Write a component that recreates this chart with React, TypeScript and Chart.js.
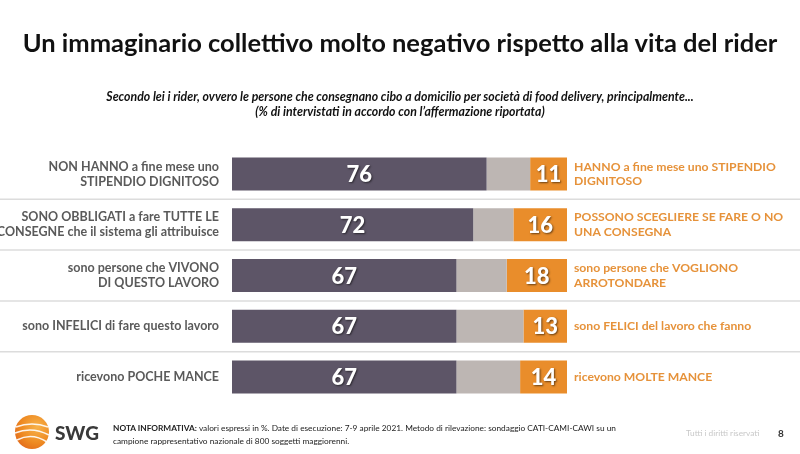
import React, { useEffect, useRef } from "react";
import { Chart, registerables } from "chart.js";

Chart.register(...registerables);

const leftLabels: string[][] = [
  ["NON HANNO a fine mese uno", "STIPENDIO DIGNITOSO"],
  ["SONO OBBLIGATI a fare TUTTE LE", "CONSEGNE che il sistema gli attribuisce"],
  ["sono persone che VIVONO", "DI QUESTO LAVORO"],
  ["sono INFELICI di fare questo lavoro"],
  ["ricevono POCHE MANCE"],
];
const rightLabels: string[][] = [
  ["HANNO a fine mese uno STIPENDIO", "DIGNITOSO"],
  ["POSSONO SCEGLIERE SE FARE O NO", "UNA CONSEGNA"],
  ["sono persone che VOGLIONO", "ARROTONDARE"],
  ["sono FELICI del lavoro che fanno"],
  ["ricevono MOLTE MANCE"],
];
const negativeValues = [76, 72, 67, 67, 67];
const neutralValues = [13, 12, 15, 20, 19];
const positiveValues = [11, 16, 18, 13, 14];

const DARK = "#5D5567";
const GRAY = "#BDB6B3";
const ORANGE = "#E98D2B";
const ORANGE_TEXT = "#E6923A";
const LABEL_FONT = "Lato";

const separatorPlugin = {
  id: "separators",
  beforeDatasetsDraw(chart: any) {
    const { ctx } = chart;
    const y = chart.scales.y;
    ctx.save();
    ctx.strokeStyle = "#DCDCDC";
    ctx.lineWidth = 1.5;
    for (let i = 0; i < leftLabels.length - 1; i++) {
      const yy = (y.getPixelForValue(i) + y.getPixelForValue(i + 1)) / 2;
      ctx.beginPath();
      ctx.moveTo(0, yy);
      ctx.lineTo(chart.width, yy);
      ctx.stroke();
    }
    ctx.restore();
  },
};

const valueLabelPlugin = {
  id: "valueLabels",
  afterDatasetsDraw(chart: any) {
    const { ctx } = chart;
    ctx.save();
    ctx.font = `900 22px ${LABEL_FONT}`;
    ctx.textAlign = "center";
    ctx.textBaseline = "middle";
    ctx.fillStyle = "#FFFFFF";
    ctx.shadowColor = "rgba(0,0,0,0.55)";
    ctx.shadowOffsetX = 1;
    ctx.shadowOffsetY = 1;
    ctx.shadowBlur = 2;
    [0, 2].forEach((di) => {
      const meta = chart.getDatasetMeta(di);
      const data = chart.data.datasets[di].data;
      meta.data.forEach((bar: any, i: number) => {
        const cx = (bar.x + bar.base) / 2;
        ctx.fillText(String(data[i]), cx, bar.y + 1);
      });
    });
    ctx.restore();
  },
};

function Logo() {
  return (
    <svg width="38" height="38" viewBox="0 0 38 38">
      <defs>
        <radialGradient id="lg" cx="0.65" cy="0.35" r="0.8">
          <stop offset="0" stopColor="#F7B24A" />
          <stop offset="0.6" stopColor="#EE8A22" />
          <stop offset="1" stopColor="#E0641A" />
        </radialGradient>
      </defs>
      <circle cx="19" cy="19" r="17" fill="url(#lg)" />
      <path d="M3 14 Q19 8 35 14" stroke="#fff" strokeWidth="1.6" fill="none" opacity="0.9" />
      <path d="M2 20 Q19 13 36 22" stroke="#fff" strokeWidth="1.6" fill="none" opacity="0.9" />
      <path d="M4 27 Q19 19 34 29" stroke="#fff" strokeWidth="1.6" fill="none" opacity="0.9" />
    </svg>
  );
}

export default function App() {
  const canvasRef = useRef<HTMLCanvasElement | null>(null);

  useEffect(() => {
    document.body.style.margin = "0";
    const canvas = canvasRef.current;
    if (!canvas) return;
    const chart = new Chart(canvas, {
      type: "bar",
      data: {
        labels: leftLabels as any,
        datasets: [
          { label: "neg", data: negativeValues, backgroundColor: DARK },
          { label: "neutral", data: neutralValues, backgroundColor: GRAY },
          { label: "pos", data: positiveValues, backgroundColor: ORANGE },
        ],
      },
      options: {
        indexAxis: "y",
        animation: false,
        responsive: false,
        maintainAspectRatio: false,
        layout: { padding: { top: 148.6, bottom: 51.6, left: 0, right: 0 } },
        datasets: {
          bar: { barPercentage: 0.65, categoryPercentage: 1, borderWidth: 0 },
        },
        plugins: {
          legend: { display: false },
          tooltip: { enabled: false },
          title: { display: false },
        },
        scales: {
          x: { stacked: true, min: 0, max: 100, display: false },
          y: {
            stacked: true,
            position: "left",
            grid: { display: false, drawTicks: false },
            border: { display: false },
            ticks: {
              color: "#5A5A5A",
              padding: 13,
              font: { family: LABEL_FONT, size: 12.5, weight: "bold" },
            },
            afterFit(scale: any) {
              scale.width = 232;
            },
          },
          y2: {
            type: "category",
            labels: rightLabels as any,
            position: "right",
            offset: true,
            grid: { display: false, drawTicks: false },
            border: { display: false },
            ticks: {
              color: ORANGE_TEXT,
              padding: 7,
              font: { family: LABEL_FONT, size: 12.2, weight: "bold" },
            },
            afterFit(scale: any) {
              scale.width = 233;
            },
          },
        },
      },
      plugins: [separatorPlugin, valueLabelPlugin],
    });
    return () => chart.destroy();
  }, []);

  return (
    <div
      style={{
        position: "fixed",
        left: 0,
        top: 0,
        width: 800,
        height: 454,
        background: "#fff",
        fontFamily: LABEL_FONT,
        overflow: "hidden",
      }}
    >
      <canvas
        ref={canvasRef}
        width={800}
        height={454}
        style={{ position: "absolute", left: 0, top: 0, width: 800, height: 454 }}
      />
      <div
        style={{
          position: "absolute",
          top: 25,
          left: 0,
          width: 800,
          textAlign: "center",
          fontSize: 25.5,
          fontWeight: 700,
          color: "#111",
          lineHeight: "34px",
        }}
      >
        Un immaginario collettivo molto negativo rispetto alla vita del rider
      </div>
      <div
        style={{
          position: "absolute",
          top: 89,
          left: 0,
          width: 800,
          textAlign: "center",
          fontSize: 12.3,
          fontWeight: 700,
          fontStyle: "italic",
          color: "#111",
          lineHeight: "15px",
        }}
      >
        Secondo lei i rider, ovvero le persone che consegnano cibo a domicilio per società di food delivery, principalmente...
        <br />
        (% di intervistati in accordo con l’affermazione riportata)
      </div>
      <div style={{ position: "absolute", left: 13, top: 413 }}>
        <Logo />
      </div>
      <div
        style={{
          position: "absolute",
          left: 55,
          top: 421,
          fontSize: 19,
          fontWeight: 900,
          color: "#3A3A3A",
          fontFamily: "Lato",
        }}
      >
        SWG
      </div>
      <div
        style={{
          position: "absolute",
          left: 113,
          top: 422,
          width: 520,
          fontSize: 8.3,
          lineHeight: "13px",
          color: "#222",
        }}
      >
        <b>NOTA INFORMATIVA:</b> valori espressi in %. Date di esecuzione: 7-9 aprile 2021. Metodo di rilevazione: sondaggio CATI-CAMI-CAWI su un
        <br />
        campione rappresentativo nazionale di 800 soggetti maggiorenni.
      </div>
      <div style={{ position: "absolute", left: 686, top: 428, fontSize: 8.3, color: "#C8C8C8" }}>
        Tutti i diritti riservati
      </div>
      <div style={{ position: "absolute", left: 778, top: 427, fontSize: 10, fontWeight: 700, color: "#333" }}>
        8
      </div>
    </div>
  );
}
